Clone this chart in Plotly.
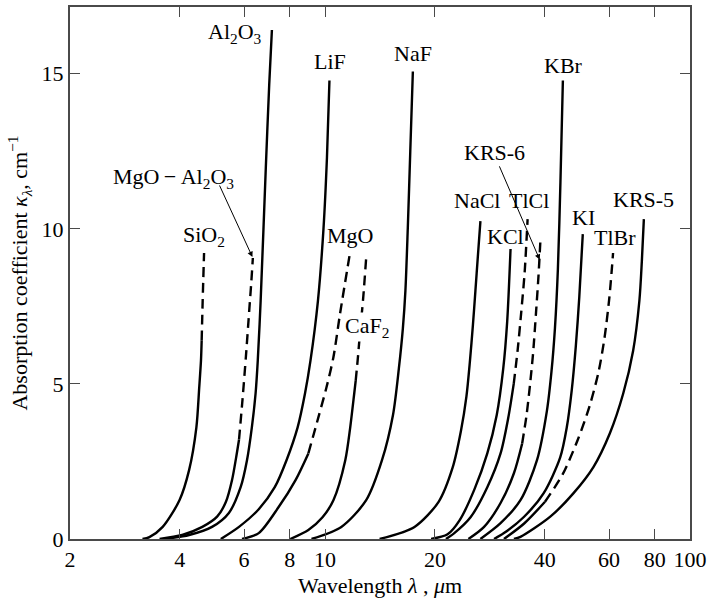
import math
import plotly.graph_objects as go

# ---------------- data (wavelength in µm, absorption coefficient in cm^-1) ----------------
SIO2_WL = [3.16, 3.30, 3.59, 3.99, 4.24, 4.44, 4.52, 4.57, 4.59, 4.62, 4.66]
SIO2_K = [0.0, 0.06, 0.39, 1.25, 2.22, 3.60, 4.88, 5.75, 6.39, 7.70, 9.22]

SPINEL_WL = [3.52, 4.06, 4.61, 5.06, 5.35, 5.56, 5.70, 5.81, 5.94, 6.07, 6.20, 6.28, 6.34]
SPINEL_K = [0.0, 0.13, 0.39, 0.72, 1.20, 1.90, 2.60, 3.20, 4.50, 5.90, 7.40, 8.30, 9.06]

AL2O3_WL = [3.63, 4.24, 4.90, 5.45, 5.87, 6.11, 6.30, 6.45, 6.54, 6.66, 6.88, 7.03, 7.15]
AL2O3_K = [0.0, 0.13, 0.39, 0.84, 1.67, 2.54, 3.60, 4.69, 5.75, 7.68, 11.96, 14.65, 16.41]

LIF_WL = [5.18, 5.81, 6.58, 7.28, 7.84, 8.41, 8.81, 9.12, 9.56, 9.90, 10.12, 10.28]
LIF_K = [0.0, 0.39, 0.96, 1.67, 2.54, 3.60, 4.69, 5.75, 7.68, 10.0, 12.3, 14.78]

MGO_WL = [5.92, 6.58, 7.46, 8.30, 9.00, 9.59, 10.09, 10.54, 10.99, 11.70]
MGO_K = [0.0, 0.19, 1.03, 1.90, 2.76, 3.93, 4.89, 5.86, 7.26, 9.22]

CAF2_WL = [8.03, 9.00, 9.84, 10.54, 11.36, 11.72, 12.02, 12.13, 12.28, 12.48, 12.72, 12.96]
CAF2_K = [0.0, 0.29, 0.70, 1.25, 2.54, 3.60, 4.69, 5.10, 5.75, 6.71, 7.77, 9.06]

NAF_WL = [9.18, 11.08, 12.96, 14.32, 15.35, 15.93, 16.34, 16.60, 16.85, 17.12, 17.40]
NAF_K = [0.0, 0.39, 1.25, 2.54, 4.00, 5.50, 6.80, 8.00, 10.0, 12.5, 15.07]

NACL_WL = [14.11, 17.58, 20.47, 22.36, 23.58, 24.40, 24.95, 25.42, 25.82, 26.22, 26.65]
NACL_K = [0.0, 0.39, 1.20, 2.30, 3.50, 4.60, 5.75, 6.90, 8.00, 9.10, 10.25]

KCL_WL = [19.52, 21.66, 23.36, 25.66, 27.83, 29.54, 30.78, 31.55, 32.23]
KCL_K = [0.0, 0.15, 0.60, 1.60, 2.76, 4.00, 5.50, 7.00, 9.35]

TLCL_WL = [21.44, 22.60, 25.07, 27.83, 30.26, 31.76, 32.88, 33.71, 34.47, 35.23, 35.89]
TLCL_K = [0.0, 0.19, 0.71, 1.67, 2.76, 3.90, 5.00, 6.10, 7.30, 8.60, 10.31]

KRS6_WL = [24.71, 27.27, 30.26, 32.92, 34.68, 35.66, 36.46, 37.16, 37.85, 38.45, 38.90]
KRS6_K = [0.0, 0.39, 1.16, 2.12, 3.08, 4.00, 5.00, 6.00, 7.30, 8.50, 9.60]

KBR_WL = [26.65, 30.26, 34.31, 38.08, 40.55, 41.73, 42.65, 43.45, 44.15, 44.84]
KBR_K = [0.0, 0.51, 1.25, 2.54, 4.14, 5.40, 6.80, 8.70, 11.50, 14.78]

KI_WL = [29.04, 30.92, 35.05, 39.73, 44.09, 45.96, 47.42, 48.64, 49.73, 50.84]
KI_K = [0.0, 0.19, 0.71, 1.48, 2.63, 3.60, 4.80, 6.20, 7.80, 9.83]

TLBR_WL = [30.92, 35.12, 40.06, 44.84, 49.26, 53.11, 56.19, 58.34, 60.02, 60.97, 61.54]
TLBR_K = [0.0, 0.50, 1.20, 2.10, 3.20, 4.30, 5.40, 6.50, 7.70, 8.60, 9.22]

KRS5_WL = [32.92, 34.31, 41.41, 47.96, 54.36, 60.32, 65.61, 69.85, 72.66, 73.80, 74.74]
KRS5_K = [0.0, 0.07, 0.72, 1.48, 2.32, 3.41, 4.69, 6.07, 7.68, 8.96, 10.31]

X_TICKS = [2, 4, 6, 8, 10, 20, 40, 60, 80, 100]
Y_TICKS = [0, 5, 10, 15]

# ---------------- styling ----------------
FONT = "Liberation Serif"
FS = 22
INK = "black"
FRAME = "#4a4a4a"
LW = 2.4
DASH = "10px,6px"

# (name, wl, k, index where the dashed part begins or None, label html, label dx px, label dy px (up +), white bg)
CURVES = [
    ("SiO2", SIO2_WL, SIO2_K, 8, "SiO<sub>2</sub>", 0, 17, False),
    ("MgO-Al2O3", SPINEL_WL, SPINEL_K, 7, None, 0, 0, False),
    ("Al2O3", AL2O3_WL, AL2O3_K, None, "Al<sub>2</sub>O<sub>3</sub>", -37, -3, False),
    ("LiF", LIF_WL, LIF_K, None, "LiF", 1, 19, False),
    ("MgO", MGO_WL, MGO_K, 4, "MgO", 0, 17, False),
    ("CaF2", CAF2_WL, CAF2_K, 7, "CaF<sub>2</sub>", 1, -69, True),
    ("NaF", NAF_WL, NAF_K, None, "NaF", 0, 18, False),
    ("NaCl", NACL_WL, NACL_K, None, "NaCl", -3, 21, False),
    ("KCl", KCL_WL, KCL_K, None, "KCl", -5, 12, False),
    ("TlCl", TLCL_WL, TLCL_K, 6, "TlCl", 1, 19, False),
    ("KRS-6", KRS6_WL, KRS6_K, 4, None, 0, 0, False),
    ("KBr", KBR_WL, KBR_K, None, "KBr", 1, 15, False),
    ("KI", KI_WL, KI_K, None, "KI", 1, 17, False),
    ("TlBr", TLBR_WL, TLBR_K, 2, "TlBr", 2, 15, False),
    ("KRS-5", KRS5_WL, KRS5_K, None, "KRS-5", 0, 20, False),
]

fig = go.Figure()
annotations = []
for name, wl, k, dash_i, label, dx, dy, bg in CURVES:
    if dash_i is None:
        parts = [(wl, k, "solid")]
    else:
        parts = [(wl[:dash_i + 1], k[:dash_i + 1], "solid"), (wl[dash_i:], k[dash_i:], DASH)]
    for xs, ys, dsh in parts:
        fig.add_trace(go.Scatter(
            x=xs, y=ys, mode="lines", name=name, showlegend=False, hoverinfo="skip",
            line=dict(color=INK, width=LW, dash=dsh, shape="spline", smoothing=0.8),
        ))
    if label:
        annotations.append(dict(
            x=math.log10(wl[-1]), y=k[-1], xref="x", yref="y", text=label, showarrow=False,
            xanchor="center", yanchor="middle", xshift=dx, yshift=dy,
            font=dict(family=FONT, size=FS, color=INK),
            bgcolor="white" if bg else None, borderpad=0,
        ))

# labels with pointer arrows
annotations.append(dict(
    x=math.log10(SPINEL_WL[-1]), y=SPINEL_K[-1], xref="x", yref="y",
    text="", showarrow=True, ax=-34, ay=-74, axref="pixel", ayref="pixel",
    arrowhead=2, arrowsize=1.1, arrowwidth=1, arrowcolor=INK, standoff=1,
))
annotations.append(dict(
    x=math.log10(SPINEL_WL[-1]), y=SPINEL_K[-1], xref="x", yref="y",
    text="MgO\u2009\u2212\u2009Al<sub>2</sub>O<sub>3</sub>", showarrow=False, xshift=-79, yshift=80,
    font=dict(family=FONT, size=FS, color=INK),
))
annotations.append(dict(
    x=math.log10(38.75), y=9.0, xref="x", yref="y",
    text="", showarrow=True, ax=-41, ay=-95, axref="pixel", ayref="pixel",
    arrowhead=2, arrowsize=1.1, arrowwidth=1, arrowcolor=INK, standoff=0,
))
annotations.append(dict(
    x=math.log10(KRS6_WL[-1]), y=KRS6_K[-1], xref="x", yref="y",
    text="KRS-6", showarrow=False, xshift=-46, yshift=89,
    font=dict(family=FONT, size=FS, color=INK),
))

axis_common = dict(
    showgrid=False, zeroline=False, showline=True, linecolor=FRAME, linewidth=2,
    ticks="inside", ticklen=10, tickwidth=1.3, tickcolor=FRAME, mirror="ticks",
    tickfont=dict(family=FONT, size=FS, color=INK),
)
fig.update_xaxes(
    type="log", range=[math.log10(2), math.log10(100)],
    tickvals=X_TICKS, ticktext=[str(v) for v in X_TICKS],
    title=dict(text="Wavelength <i>λ</i> , <i>μ</i>m", font=dict(family=FONT, size=FS, color=INK), standoff=6),
    **axis_common,
)
fig.update_yaxes(
    range=[0, 17.15], tickvals=Y_TICKS, ticktext=[str(v) for v in Y_TICKS],
    title=dict(text="Absorption coefficient <i>κ</i><sub><i>λ</i></sub>, cm<sup>−1</sup>",
               font=dict(family=FONT, size=FS, color=INK), standoff=8),
    **axis_common,
)
fig.update_layout(
    width=712, height=605, margin=dict(l=70, r=18, t=5, b=66),
    paper_bgcolor="white", plot_bgcolor="white", annotations=annotations,
    font=dict(family=FONT, size=FS, color=INK),
)
fig.write_html("out.html")
